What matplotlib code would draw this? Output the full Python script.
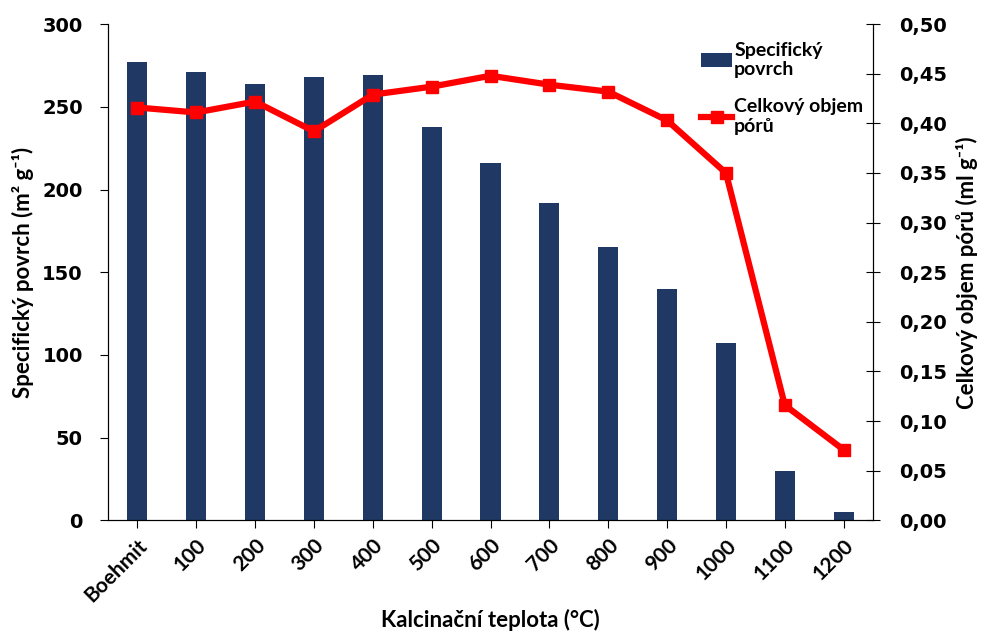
import matplotlib.pyplot as plt
import numpy as np

categories = ["Boehmit", "100", "200", "300", "400", "500", "600", "700",
              "800", "900", "1000", "1100", "1200"]
surface = [277, 271, 264, 268, 269, 238, 216, 192, 165, 140, 107, 30, 5]
pore_volume = [0.416, 0.411, 0.422, 0.392, 0.429, 0.437, 0.448, 0.439,
               0.432, 0.403, 0.350, 0.116, 0.071]
left_ticks = [0, 50, 100, 150, 200, 250, 300]
right_ticks = [0.0, 0.05, 0.10, 0.15, 0.20, 0.25, 0.30, 0.35, 0.40, 0.45, 0.50]

plt.rcParams['font.family'] = ['Lato', 'DejaVu Sans']

fig = plt.figure(figsize=(9.81, 6.36), dpi=100)
ax = fig.add_axes([0.110, 0.182, 0.780, 0.780])
x = np.arange(len(categories))

bars = ax.bar(x, surface, width=0.34, color='#1F3864')
ax.set_xlim(-0.5, len(categories) - 0.5)
ax.set_ylim(0, 300)
ax.set_yticks(left_ticks)
ax.set_yticklabels([str(t) for t in left_ticks], fontsize=14, fontweight='bold',
                   family='DejaVu Sans')
ax.set_xticks(x)
ax.set_xticklabels(categories, rotation=45, ha='right', rotation_mode='anchor',
                   fontsize=15, fontweight='bold')
ax.tick_params(axis='x', length=6, pad=5)
ax.tick_params(axis='y', length=6, pad=12)
ax.set_ylabel('Specifický povrch (m² g⁻¹)', fontsize=16, fontweight='bold',
              labelpad=6)
ax.set_xlabel('Kalcinační teplota (°C)', fontsize=16, fontweight='bold', labelpad=2)
ax.spines['top'].set_visible(False)

ax2 = ax.twinx()
line, = ax2.plot(x, pore_volume, color='#FF0000', lw=4.5, marker='s', ms=8)
ax2.set_ylim(0, 0.5)
ax2.set_yticks(right_ticks)
ax2.set_yticklabels([f"{t:.2f}".replace('.', ',') for t in right_ticks],
                    fontsize=14, fontweight='bold', family='DejaVu Sans')
ax2.tick_params(axis='y', direction='inout', length=10, pad=14)
ax2.set_ylabel('Celkový objem pórů (ml g⁻¹)', fontsize=16, fontweight='bold',
               labelpad=6)
ax2.spines['top'].set_visible(False)

ax2.legend([bars, line], ['Specifický\npovrch', 'Celkový objem\npórů'],
           loc='upper right', frameon=False,
           prop={'weight': 'bold', 'size': 14}, labelspacing=1.0,
           handlelength=1.6, handletextpad=0.1, bbox_to_anchor=(1.01, 1.0))

fig.savefig('out.png', dpi=100)
